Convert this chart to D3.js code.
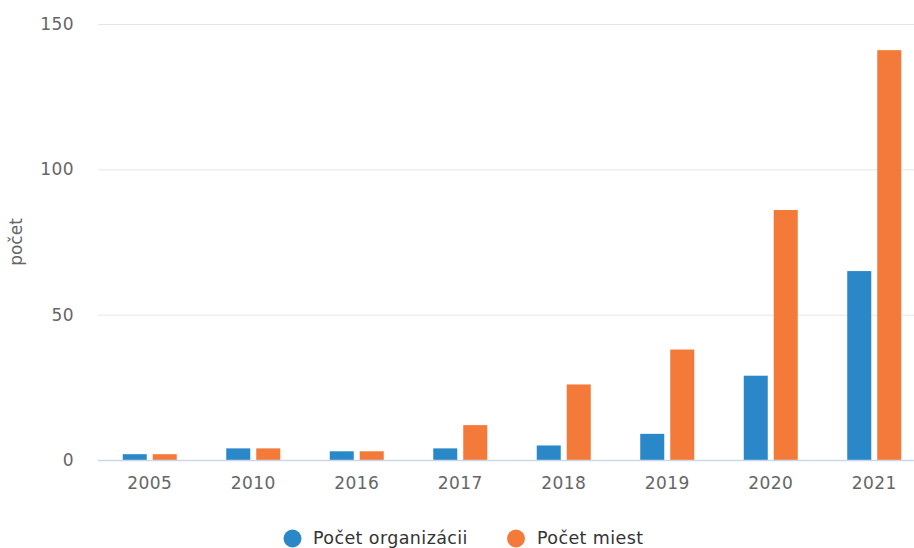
<!DOCTYPE html>
<html>
<head>
<meta charset="utf-8">
<script src="https://cdn.jsdelivr.net/npm/d3@7"></script>
<style>
  html, body { margin: 0; padding: 0; background: #fff; }
  svg { display: block; font-family: "DejaVu Sans", sans-serif; }
</style>
</head>
<body>
<svg id="chart" width="914" height="548"></svg>
<script>
const categories = ["2005", "2010", "2016", "2017", "2018", "2019", "2020", "2021"];
const seriesNames = ["Počet organizácii", "Počet miest"];
const organizacie = [2, 4, 3, 4, 5, 9, 29, 65];
const miesta = [2, 4, 3, 12, 26, 38, 86, 141];
const yTicks = [0, 50, 100, 150];
const colors = ["#2a88c9", "#f47a3a"];
const yTitle = "počet";

(function () {
const svg = d3.select("#chart");
const W = 914;
const pLeft = 98, pRight = 926, pTop = 24, pBottom = 460;

const x0 = d3.scaleBand().domain(categories).range([pLeft, pRight]).padding(0);
const x1 = d3.scaleBand().domain([0, 1]).range([24.75, 78.75]).paddingInner(0.2).paddingOuter(0);
const y = d3.scaleLinear().domain([0, 150]).range([pBottom, pTop]);

// grid
svg.append("g").selectAll("line").data(yTicks.filter(d => d !== 0)).join("line")
  .attr("x1", pLeft).attr("x2", W)
  .attr("y1", d => y(d) + 0.5).attr("y2", d => y(d) + 0.5)
  .attr("stroke", "#e6e6e6").attr("stroke-width", 1);

// y labels
svg.append("g").selectAll("text").data(yTicks).join("text")
  .attr("x", 74).attr("y", d => y(d)).attr("dy", "0.35em")
  .attr("text-anchor", "end").attr("fill", "#666").attr("font-size", 17)
  .attr("letter-spacing", 0.4)
  .text(d => d);

// y title
svg.append("text")
  .attr("transform", `translate(22, ${(pTop + pBottom) / 2}) rotate(-90)`)
  .attr("text-anchor", "middle").attr("fill", "#666").attr("font-size", 17)
  .text(yTitle);

// bars
const data = [organizacie, miesta];
data.forEach((vals, si) => {
  svg.append("g").selectAll("rect").data(vals).join("rect")
    .attr("x", (d, i) => x0(categories[i]) + x1(si))
    .attr("width", x1.bandwidth())
    .attr("y", d => y(d))
    .attr("height", d => y(0) - y(d))
    .attr("fill", colors[si]);
});

// x axis line
svg.append("line").attr("x1", pLeft).attr("x2", W)
  .attr("y1", pBottom + 0.5).attr("y2", pBottom + 0.5)
  .attr("stroke", "#ccd6eb").attr("stroke-width", 1.5);

// x labels
svg.append("g").selectAll("text").data(categories).join("text")
  .attr("x", d => x0(d) + x0.bandwidth() / 2).attr("y", 489)
  .attr("text-anchor", "middle").attr("fill", "#666").attr("font-size", 17)
  .attr("letter-spacing", 0.4)
  .text(d => d);

// legend
const legendItems = [{ cx: 292.5, tx: 313 }, { cx: 516, tx: 537 }];
seriesNames.forEach((name, i) => {
  const g = svg.append("g");
  g.append("circle").attr("cx", legendItems[i].cx).attr("cy", 538.5).attr("r", 9).attr("fill", colors[i]);
  g.append("text").attr("x", legendItems[i].tx).attr("y", 543.5)
    .attr("fill", "#333").attr("font-size", 17.5).attr("letter-spacing", 0.4).text(name);
});
})();
</script>
</body>
</html>
